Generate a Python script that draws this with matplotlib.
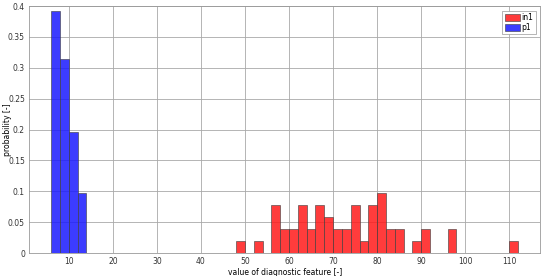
import matplotlib
matplotlib.use("Agg")
import matplotlib.pyplot as plt

# bin left edges (width 2) and probabilities
p1_edges = [6, 8, 10, 12]
p1_prob = [20/51, 16/51, 10/51, 5/51]

in1_edges = [48, 52, 56, 58, 60, 62, 64, 66, 68, 70, 72, 74, 76, 78, 80, 82, 84, 88, 90, 96, 110]
in1_counts = [1, 1, 4, 2, 2, 4, 2, 4, 3, 2, 2, 4, 1, 4, 5, 2, 2, 1, 2, 2, 1]
in1_prob = [c / 51 for c in in1_counts]

bin_width = 2

fig = plt.figure(figsize=(5.5, 2.76), dpi=100)
ax = fig.add_axes([0.053, 0.083, 0.929, 0.895])

ax.bar(in1_edges, in1_prob, width=bin_width, align="edge", color="#ff1a1a", alpha=0.85,
       edgecolor="#404040", linewidth=0.5, label="in1", zorder=3)
ax.bar(p1_edges, p1_prob, width=bin_width, align="edge", color="#1a1aff", alpha=0.85,
       edgecolor="#404040", linewidth=0.5, label="p1", zorder=3)

ax.set_xlim(1, 117)
ax.set_ylim(0, 0.4)
ax.set_xticks(range(10, 111, 10))
ax.set_yticks([0, 0.05, 0.1, 0.15, 0.2, 0.25, 0.3, 0.35, 0.4])
ax.set_yticklabels(["0", "0.05", "0.1", "0.15", "0.2", "0.25", "0.3", "0.35", "0.4"])
ax.grid(True, color="#a8a8a8", linewidth=0.6, zorder=0)
ax.tick_params(labelsize=5.5, length=0, pad=3, colors="#333333")
for s in ax.spines.values():
    s.set_color("#999999")
    s.set_linewidth(0.6)

ax.set_xlabel("value of diagnostic feature [-]", fontsize=5.5, labelpad=1)
ax.set_ylabel("probability [-]", fontsize=5.5)
ax.yaxis.set_label_coords(-0.033, 0.5)

leg = ax.legend(loc="upper right", fontsize=5.5, handlelength=2, handleheight=1,
                handletextpad=0.2, borderpad=0.3, labelspacing=0.1, fancybox=False,
                framealpha=1, borderaxespad=0.6)
leg.get_frame().set_edgecolor("#999999")
leg.get_frame().set_linewidth(0.5)

fig.savefig("out.png", dpi=100)
